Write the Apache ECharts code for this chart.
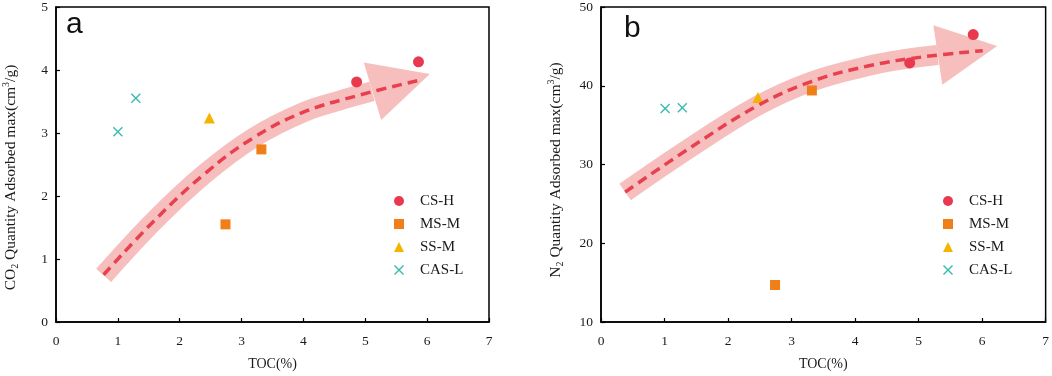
<!DOCTYPE html>
<html>
<head>
<meta charset="utf-8">
<script src="https://cdn.jsdelivr.net/npm/echarts@6/dist/echarts.min.js"></script>
<style>
  html, body { margin: 0; padding: 0; background: #fff; }
  #chart { width: 1052px; height: 376px; }
</style>
</head>
<body>
<div id="chart"></div>
<script>
// 系列名称
const groupNames = ['CS-H', 'MS-M', 'SS-M', 'CAS-L']

// a: CO2 吸附量 [TOC, 值]
const co2CSH = [[4.86, 3.81], [5.86, 4.13]]
const co2MSM = [[3.32, 2.74], [2.74, 1.55]]
const co2SSM = [[2.48, 3.24]]
const co2CASL = [[1.0, 3.02], [1.29, 3.55]]
// 趋势虚线
const co2Trend = [[0.77, 0.75], [1.6, 1.62], [2.4, 2.35], [3.2, 2.93], [4.0, 3.33], [4.9, 3.6], [5.84, 3.83]]
const co2Band = [[0.77, 0.74], [1.6, 1.62], [2.4, 2.35], [3.2, 2.93], [4.0, 3.33], [4.6, 3.52], [5.11, 3.66]]
const co2Arrow = [[5.11, 3.66], [5.58, 3.80]]

// b: N2 吸附量
const n2CSH = [[4.86, 42.9], [5.86, 46.5]]
const n2MSM = [[3.32, 39.4], [2.74, 14.7]]
const n2SSM = [[2.47, 38.5]]
const n2CASL = [[1.01, 37.1], [1.28, 37.2]]
const n2Trend = [[0.38, 26.5], [1.4, 32.1], [2.45, 37.4], [3.3, 40.5], [4.2, 42.5], [5.1, 43.7], [6.01, 44.45]]
const n2Band = [[0.38, 26.5], [1.4, 32.1], [2.45, 37.4], [3.3, 40.5], [4.2, 42.5], [4.8, 43.4], [5.3, 43.9]]
const n2Arrow = [[5.3, 43.9], [5.77, 44.47]]

const xTicks = { min: 0, max: 7, interval: 1 }
const co2Ticks = { min: 0, max: 5, interval: 1 }
const n2Ticks = { min: 10, max: 50, interval: 10 }

const serif = 'Liberation Serif'
const textColor = '#1a1a1a'
const bandColor = '#f6bfbd'
const colors = { 'CS-H': '#e8394f', 'MS-M': '#f07f1a', 'SS-M': '#f5b400', 'CAS-L': '#3bbcb0' }
const symbols = {
  'CS-H': 'circle',
  'MS-M': 'rect',
  'SS-M': 'triangle',
  'CAS-L': 'path://M0,1L1,0L5,4L9,0L10,1L6,5L10,9L9,10L5,6L1,10L0,9L4,5Z'
}
const sizes = { 'CS-H': 11, 'MS-M': 10, 'SS-M': 11, 'CAS-L': 10 }

const chart = echarts.init(document.getElementById('chart'))

function makeX(gridIndex) {
  return {
    gridIndex: gridIndex,
    type: 'value',
    min: xTicks.min, max: xTicks.max, interval: xTicks.interval,
    name: 'TOC(%)',
    nameLocation: 'middle',
    nameGap: 35,
    nameTextStyle: { fontFamily: serif, fontSize: 14, color: textColor },
    axisLine: { onZero: false, lineStyle: { color: '#000', width: 1.5 } },
    axisTick: { inside: true, length: 4, lineStyle: { color: '#000', width: 1.2 } },
    axisLabel: { fontFamily: serif, fontSize: 13.5, color: textColor, margin: 12 },
    splitLine: { show: false }
  }
}

// shift: 轴名称向下偏移的补白
function makeY(gridIndex, ticks, gas, shift) {
  return {
    gridIndex: gridIndex,
    type: 'value',
    min: ticks.min, max: ticks.max, interval: ticks.interval,
    name: '{n|' + gas + '}{s|2}{n| Quantity Adsorbed max(cm}{p|3}{n|/g)}',
    nameLocation: 'middle',
    nameRotate: 90,
    nameGap: 36,
    nameTextStyle: {
      fontFamily: serif, fontSize: 15.5, color: textColor,
      padding: [0, shift, 0, 0],
      rich: {
        n: { fontFamily: serif, fontSize: 15.5, color: textColor, lineHeight: 19 },
        s: { fontFamily: serif, fontSize: 10, color: textColor, lineHeight: 13, verticalAlign: 'bottom' },
        p: { fontFamily: serif, fontSize: 10, color: textColor, lineHeight: 13, verticalAlign: 'top' }
      }
    },
    axisLine: { show: true, onZero: false, lineStyle: { color: '#000', width: 1.5 } },
    axisTick: { show: true, inside: true, length: 4, lineStyle: { color: '#000', width: 1.2 } },
    axisLabel: { fontFamily: serif, fontSize: 13.5, color: textColor, margin: 8 },
    splitLine: { show: false }
  }
}

function scatter(name, data, idx) {
  return {
    name: name,
    type: 'scatter',
    xAxisIndex: idx, yAxisIndex: idx,
    symbol: symbols[name],
    symbolSize: sizes[name],
    itemStyle: { color: colors[name], opacity: 1 },
    z: 4,
    data: data
  }
}

function band(data, idx) {
  return {
    type: 'line', xAxisIndex: idx, yAxisIndex: idx,
    smooth: 0.4, symbol: 'none', silent: true,
    lineStyle: { color: bandColor, width: 20, cap: 'butt' },
    z: 1,
    data: data
  }
}

function arrowHead(coords, idx) {
  return {
    type: 'lines', coordinateSystem: 'cartesian2d', xAxisIndex: idx, yAxisIndex: idx,
    symbol: ['none', 'triangle'],
    symbolSize: [60, 60],
    silent: true,
    lineStyle: { color: bandColor, width: 0, opacity: 1 },
    z: 1,
    data: [{ coords: coords }]
  }
}

function trend(data, idx) {
  return {
    type: 'line', xAxisIndex: idx, yAxisIndex: idx,
    smooth: 0.4, symbol: 'none', silent: true,
    lineStyle: { color: '#e8404f', width: 3.5, type: [10, 6] },
    z: 5,
    data: data
  }
}

function legend(left) {
  return {
    orient: 'vertical',
    left: left, top: 188,
    data: groupNames,
    itemWidth: 10, itemHeight: 10, itemGap: 7,
    selectedMode: false,
    textStyle: { fontFamily: serif, fontSize: 15, color: textColor, lineHeight: 16, padding: [0, 0, 0, 11] }
  }
}

const option = {
  backgroundColor: '#fff',
  animation: false,
  title: [
    { text: 'a', left: 66, top: 10, padding: 0,
      textStyle: { fontFamily: 'Liberation Sans', fontSize: 30, fontWeight: 'normal', color: '#111' } },
    { text: 'b', left: 624, top: 14, padding: 0,
      textStyle: { fontFamily: 'Liberation Sans', fontSize: 30, fontWeight: 'normal', color: '#111' } }
  ],
  legend: [legend(389), legend(938)],
  grid: [
    { left: 52, top: 6, width: 437, height: 316, show: true, borderColor: '#000', borderWidth: 1.5 },
    { left: 601, top: 6, width: 445, height: 317, show: true, borderColor: '#000', borderWidth: 1.5 }
  ],
  xAxis: [makeX(0), makeX(1)],
  yAxis: [makeY(0, co2Ticks, 'CO', 26), makeY(1, n2Ticks, 'N', 11)],
  series: [
    band(co2Band, 0), arrowHead(co2Arrow, 0), trend(co2Trend, 0),
    scatter('CS-H', co2CSH, 0), scatter('MS-M', co2MSM, 0), scatter('SS-M', co2SSM, 0), scatter('CAS-L', co2CASL, 0),
    band(n2Band, 1), arrowHead(n2Arrow, 1), trend(n2Trend, 1),
    scatter('CS-H', n2CSH, 1), scatter('MS-M', n2MSM, 1), scatter('SS-M', n2SSM, 1), scatter('CAS-L', n2CASL, 1)
  ]
}

chart.setOption(option)
window.addEventListener('resize', function () { chart.resize() })
</script>
</body>
</html>
